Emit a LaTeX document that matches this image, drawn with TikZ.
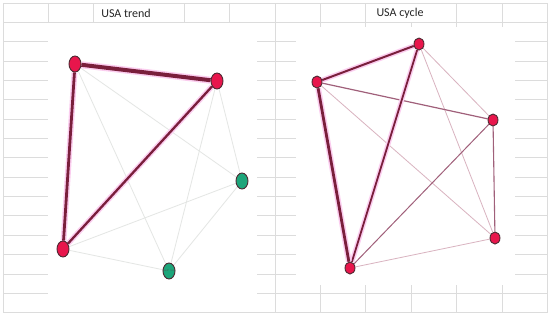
\documentclass[tikz,border=0pt]{standalone}
\usepackage{fontspec}
\newfontfamily\calib{Carlito}
\usetikzlibrary{calc, shapes.geometric}

\definecolor{gridgray}{HTML}{DCDCDC}
\definecolor{nodered}{HTML}{E8164C}
\definecolor{nodegreen}{HTML}{1DA57A}
\definecolor{rimdark}{HTML}{4E2A33}
\definecolor{strongred}{HTML}{7A1F3C}
\definecolor{weakgray}{HTML}{E4E6E4}
\definecolor{midmauve}{HTML}{A0607A}
\definecolor{lightmauve}{HTML}{D9B3C0}
\definecolor{glow}{HTML}{FBCDEF}

\pgfdeclarelayer{sheet}
\pgfdeclarelayer{edges}
\pgfsetlayers{sheet,edges,main}

\begin{document}
\begin{tikzpicture}[x=1pt, y=-1pt,
    rnode/.style={draw=rimdark, fill=nodered, ellipse, line width=0.9pt,
                  minimum width=12pt, minimum height=16pt, inner sep=0pt},
    gnode/.style={draw=rimdark, fill=nodegreen, ellipse, line width=0.9pt,
                  minimum width=12pt, minimum height=16pt, inner sep=0pt},
    pnode/.style={draw=rimdark, fill=nodered, ellipse, line width=0.9pt,
                  minimum width=10pt, minimum height=12pt, inner sep=0pt},
    tiny/.style={font=\fontsize{2.5}{3}\selectfont, inner sep=0pt, text=black!70},
    strong/.style={draw=strongred, line width=#1,
                   preaction={draw=glow, line width=#1+3pt}},
    weak/.style={draw=weakgray, line width=0.8pt},
    mid/.style={draw=midmauve, line width=#1},
    pale/.style={draw=lightmauve, line width=0.8pt},
    title/.style={font=\calib\fontsize{12}{14}\selectfont, text=black!85}
  ]
  \useasboundingbox (0,0) rectangle (550,317);

  \begin{pgfonlayer}{sheet}
  \fill[white] (0,0) rectangle (550,317);
  % sheet grid
  \foreach \row in {0,...,16}
    \draw[gridgray, line width=0.8pt] (3,3+19.35*\row) -- (547.4,3+19.35*\row);
  \foreach \col in {0,...,11}
    \draw[gridgray, line width=0.8pt] (48+45.4*\col,3) -- (48+45.4*\col,312.6);
  \draw[gridgray, line width=0.8pt] (3,3) -- (3,312.6);

  % merged title cells
  \fill[white] (94,3.8) rectangle (183.5,21.6);
  \fill[white] (366.6,3.8) rectangle (456,21.6);

  % chart areas
  \fill[white] (48.4,22.8) rectangle (257,312.2);
  \fill[white] (296,27) rectangle (515,285);
  \end{pgfonlayer}

  \node[title] (ttrend) at (126,13) {USA trend};
  \node[title] (tcycle) at (400,13) {USA cycle};

  % trend network
  \node[rnode] (gdp) at (75,64) {};
  \node[rnode] (inv) at (217,81) {};
  \node[rnode] (con) at (63,249) {};
  \node[gnode] (msci) at (242,181) {};
  \node[gnode] (spx) at (169,271) {};
  \node[tiny] (spxlab) at (spx) {S\&P 500};

  \begin{pgfonlayer}{edges}
  \draw[weak] (gdp) -- (msci);
  \draw[weak] (gdp) -- (spx);
  \draw[weak] (inv) -- (msci);
  \draw[weak] (inv) -- (spx);
  \draw[weak] (con) -- (msci);
  \draw[weak] (con) -- (spx);
  \draw[weak] (msci) -- (spx);
  \draw[strong=2.3pt] (inv) -- (con);
  \draw[strong=2.8pt] (gdp) -- (con);
  \draw[strong=4pt] (gdp) -- (inv);
  \end{pgfonlayer}

  % cycle network
  \node[pnode] (ctop) at (419,44) {};
  \node[pnode] (cleft) at (317,82) {};
  \node[pnode] (cright) at (493,120) {};
  \node[pnode] (cdown) at (495,238) {};
  \node[pnode] (cbot) at (350,268) {};

  \begin{pgfonlayer}{edges}
  \draw[pale] (ctop) -- (cright);
  \draw[pale] (ctop) -- (cdown);
  \draw[pale] (cleft) -- (cdown);
  \draw[pale] (cbot) -- (cdown);
  \draw[mid=1pt] (cright) -- (cbot);
  \draw[mid=1.1pt] (cright) -- (cdown);
  \draw[mid=1.2pt] (cleft) -- (cright);
  \draw[strong=1.8pt] (ctop) -- (cbot);
  \draw[strong=2pt] (cleft) -- (ctop);
  \draw[strong=2.8pt] (cleft) -- (cbot);
  \end{pgfonlayer}
\end{tikzpicture}
\end{document}
